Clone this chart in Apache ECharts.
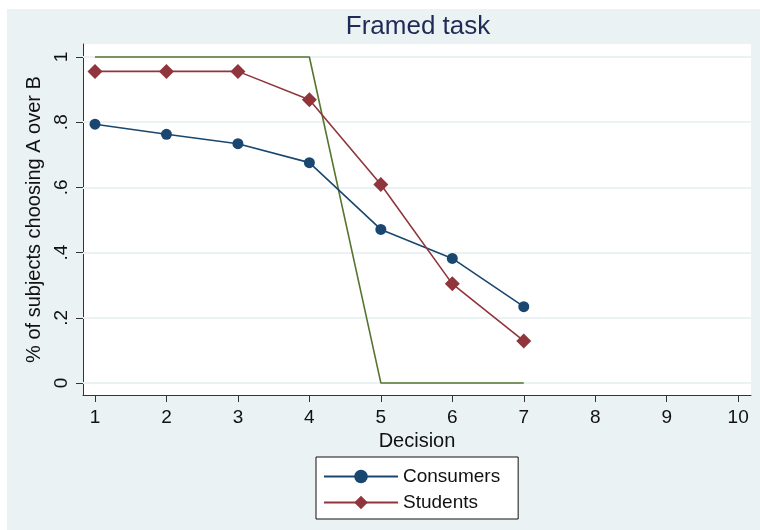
<!DOCTYPE html>
<html><head><meta charset="utf-8">
<script src="https://cdn.jsdelivr.net/npm/echarts@6/dist/echarts.min.js"></script>
<style>html,body{margin:0;padding:0;background:#fff}#c{width:760px;height:530px}</style>
</head><body><div id="c"></div>
<script>
var decisions = [1, 2, 3, 4, 5, 6, 7];
var consumers = [0.794, 0.763, 0.734, 0.676, 0.471, 0.382, 0.234];
var students = [0.956, 0.956, 0.956, 0.869, 0.609, 0.304, 0.129];
var rational = [1, 1, 1, 1, 0, 0, 0];
var xTicks = [1, 2, 3, 4, 5, 6, 7, 8, 9, 10];
var yTicks = [0, 0.2, 0.4, 0.6, 0.8, 1];
var yTickLabels = ['0', '.2', '.4', '.6', '.8', '1'];

function pairs(v){ return decisions.map(function(d,i){ return [d, v[i]]; }); }
var FONT = 'Liberation Sans';
var chart = echarts.init(document.getElementById('c'), null, {renderer:'canvas'});
chart.setOption({
  animation: false,
  backgroundColor: '#ffffff',
  graphic: [
    {type:'rect', z:-10, silent:true, shape:{x:7, y:9, width:760, height:530}, style:{fill:'#EAF2F3'}},
    {type:'text', x:418, y:27, style:{text:'Framed task', fill:'#1f2a55', font:'26px "Liberation Sans"', textAlign:'center', textVerticalAlign:'middle'}}
  ],
  grid: {left:83, top:44, width:668, height:351, show:true, backgroundColor:'#ffffff', borderWidth:0},
  xAxis: {
    type:'value', min:0.832, max:10.18,
    name:'Decision', nameLocation:'middle', nameGap:31,
    nameTextStyle:{fontFamily:FONT, fontSize:20, color:'#111'},
    axisLine:{show:true, onZero:false, lineStyle:{color:'#333', width:1}},
    axisTick:{show:true, length:7, customValues:xTicks, lineStyle:{color:'#333'}},
    axisLabel:{customValues:xTicks, fontFamily:FONT, fontSize:19, color:'#111', margin:13},
    splitLine:{show:false}
  },
  yAxis: {
    type:'value', min:-0.037, max:1.04,
    name:'% of subjects choosing A over B', nameLocation:'middle', nameGap:34,
    nameTextStyle:{fontFamily:FONT, fontSize:20, color:'#111'},
    axisLine:{show:true, onZero:false, lineStyle:{color:'#333', width:1}},
    axisTick:{show:true, length:7, customValues:yTicks, lineStyle:{color:'#333'}},
    axisLabel:{customValues:yTicks, rotate:90, fontFamily:FONT, fontSize:19, color:'#111', margin:12,
      formatter:function(v){ var i = yTicks.findIndex(function(t){return Math.abs(t-v)<1e-6;}); return i>=0 ? yTickLabels[i] : ''; }},
    splitLine:{show:false}
  },
  legend: {
    data:['Consumers','Students'], orient:'vertical', left:316, top:457,
    backgroundColor:'#ffffff', borderColor:'#111', borderWidth:1, borderRadius:0,
    padding:[10,18,7,7], itemWidth:74, itemHeight:17, itemGap:7,
    textStyle:{fontFamily:FONT, fontSize:19, color:'#111'}
  },
  series: [
    {name:'gridlines', type:'line', data:[], silent:true, z:1,
     markLine:{silent:true, z:1, symbol:'none', label:{show:false}, lineStyle:{color:'#EAF2F3', width:2, type:'solid'},
       data: yTicks.map(function(t){ return {yAxis:t}; })}},
    {name:'Rational', type:'line', data:pairs(rational), showSymbol:false, symbol:'none',
     lineStyle:{color:'#55752f', width:1.6}, itemStyle:{color:'#55752f'}, z:5},
    {name:'Consumers', type:'line', data:pairs(consumers), symbol:'circle', symbolSize:11,
     lineStyle:{color:'#1a476f', width:1.6}, itemStyle:{color:'#1a476f'}, z:6},
    {name:'Students', type:'line', data:pairs(students), symbol:'diamond', symbolSize:15,
     lineStyle:{color:'#90353b', width:1.6}, itemStyle:{color:'#90353b'}, z:7}
  ]
});
</script></body></html>
